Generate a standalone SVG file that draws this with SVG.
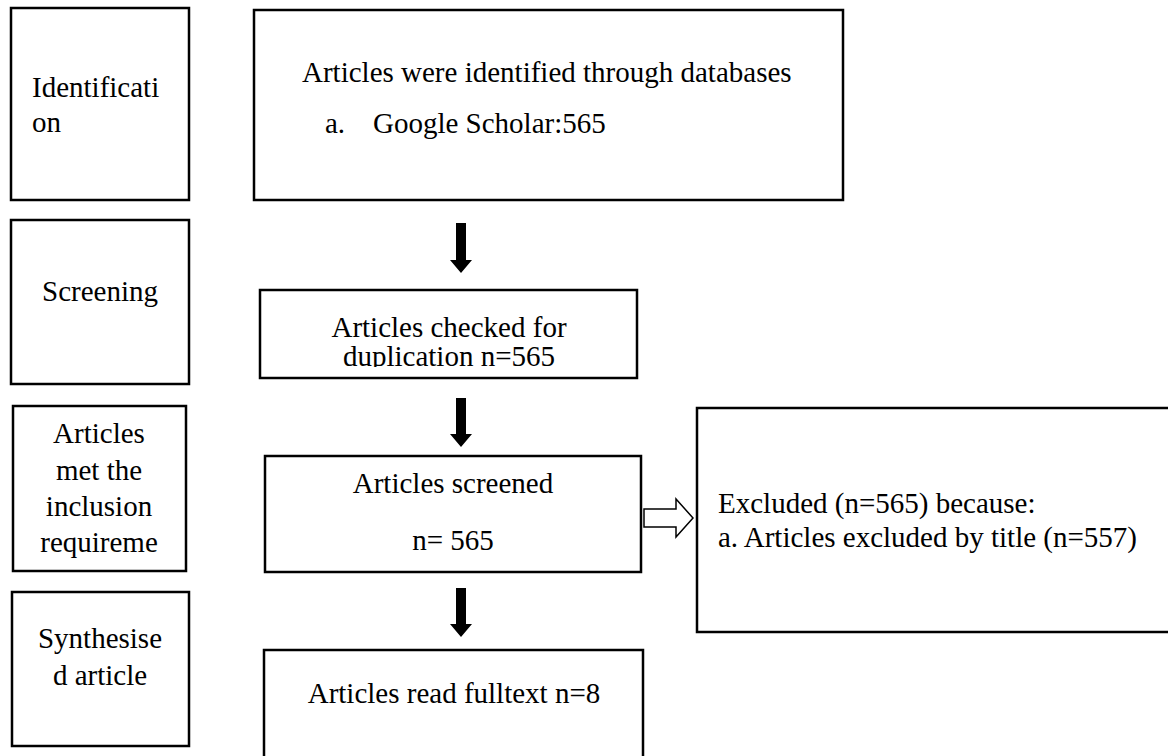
<svg xmlns="http://www.w3.org/2000/svg" width="1168" height="756" viewBox="0 0 1168 756">
  <style>
    .box { fill: #ffffff; stroke: #000000; stroke-width: 2.5; }
    .t { font-family: "Liberation Serif", "Times New Roman", serif; font-size: 29px; fill: #000000; }
    .c { text-anchor: middle; }
    .solid { fill: #000000; stroke: none; }
    .hollow { fill: #ffffff; stroke: #000000; stroke-width: 1.5; stroke-linejoin: miter; }
  </style>
  <defs>
    <!-- the second line of the duplication box is cut at the box's inner edge -->
    <clipPath id="dupClip">
      <rect x="260" y="290" width="380" height="77"/>
    </clipPath>
  </defs>
  <rect width="1168" height="756" fill="#ffffff"/>

  <!-- stage labels, left column -->
  <g id="stage-identification">
    <rect class="box" x="11" y="8" width="178" height="192"/>
    <text class="t" x="32" y="97">Identificati</text>
    <text class="t" x="32" y="132">on</text>
  </g>
  <g id="stage-screening">
    <rect class="box" x="11" y="220" width="178" height="164"/>
    <text class="t c" x="100" y="301">Screening</text>
  </g>
  <g id="stage-eligibility">
    <rect class="box" x="13" y="406" width="173" height="165"/>
    <text class="t c" x="99" y="443">Articles</text>
    <text class="t c" x="99" y="480">met the</text>
    <text class="t c" x="99" y="516">inclusion</text>
    <text class="t c" x="99" y="552">requireme</text>
  </g>
  <g id="stage-synthesis">
    <rect class="box" x="12" y="592" width="177" height="154"/>
    <text class="t c" x="100" y="648">Synthesise</text>
    <text class="t c" x="100" y="685">d article</text>
  </g>

  <!-- flow boxes -->
  <g id="identified">
    <rect class="box" x="254" y="10" width="589" height="190"/>
    <text class="t" x="302" y="82">Articles were identified through databases</text>
    <text class="t" x="325" y="133">a.</text>
    <text class="t" x="373" y="133">Google Scholar:565</text>
  </g>
  <g id="duplication">
    <rect class="box" x="260" y="290" width="377" height="88"/>
    <g clip-path="url(#dupClip)">
      <text class="t c" x="449" y="337">Articles checked for</text>
      <text class="t c" x="449" y="366">duplication n=565</text>
    </g>
  </g>
  <g id="screened">
    <rect class="box" x="265" y="456" width="376" height="116"/>
    <text class="t c" x="453" y="493">Articles screened</text>
    <text class="t c" x="453" y="550">n= 565</text>
  </g>
  <g id="fulltext">
    <rect class="box" x="264" y="650" width="379" height="120"/>
    <text class="t c" x="454" y="703">Articles read fulltext n=8</text>
  </g>
  <g id="excluded">
    <rect class="box" x="697" y="408" width="490" height="224"/>
    <text class="t" x="718" y="513">Excluded (n=565) because:</text>
    <text class="t" x="718" y="547">a. Articles excluded by title (n=557)</text>
  </g>

  <!-- connectors -->
  <g id="connectors">
    <path class="solid" d="M456,223 H466 V260 H472 L461,273 L450,260 H456 Z"/>
    <path class="solid" d="M456,398 H466 V434 H472 L461,447 L450,434 H456 Z"/>
    <path class="solid" d="M456,588 H466 V624 H472 L461,637 L450,624 H456 Z"/>
    <path class="hollow" d="M644,509 H676 V499 L693,518 L676,537 V527 H644 Z"/>
  </g>
</svg>
